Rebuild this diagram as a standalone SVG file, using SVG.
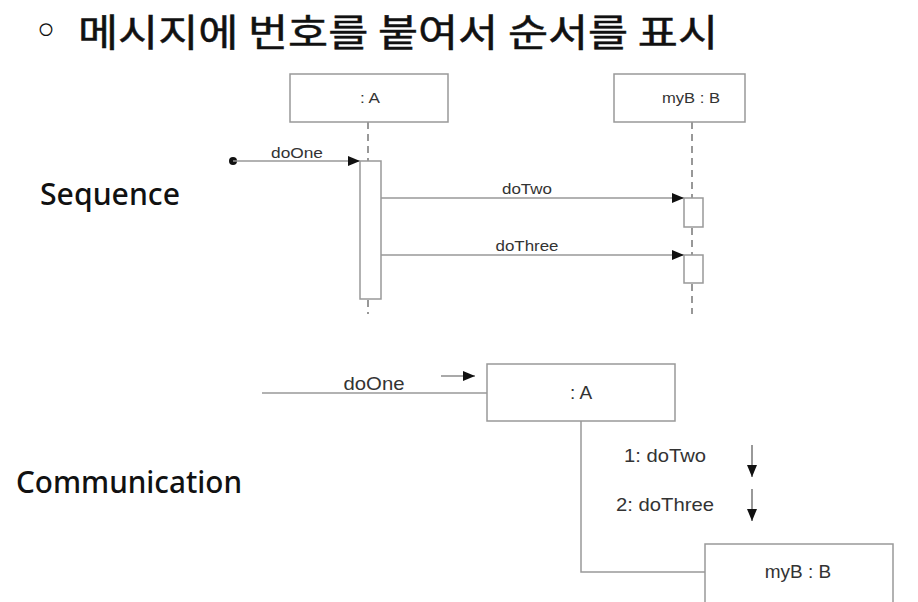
<svg xmlns="http://www.w3.org/2000/svg" width="918" height="602" viewBox="0 0 918 602">
<defs>
<style>
.t{font-family:"Liberation Sans",Arial,sans-serif;fill:#333}
.box{fill:#fff;stroke:#999;stroke-width:1.5}
.ln{fill:none;stroke:#999;stroke-width:1.5}
.dash{fill:none;stroke:#777;stroke-width:1.5;stroke-dasharray:7 5}
.arr{fill:none;stroke:#555;stroke-width:1.2}
.lbl{font-family:"Noto Sans",sans-serif;font-weight:500;font-size:30px;fill:#111}
</style>
<marker id="tri" viewBox="0 0 12 10" refX="12" refY="5" markerWidth="12" markerHeight="10" markerUnits="userSpaceOnUse" orient="auto">
<path d="M0,0 L12,5 L0,10 z" fill="#111"/>
</marker>
<marker id="tri2" viewBox="0 0 12 10" refX="12" refY="5" markerWidth="13" markerHeight="10" markerUnits="userSpaceOnUse" orient="auto">
<path d="M0,0 L12,5 L0,10 z" fill="#111"/>
</marker>
</defs>
<rect width="918" height="602" fill="#fff"/>
<g id="title">
<text x="33" y="46" font-family="DejaVu Sans,sans-serif" font-size="44" fill="#111">◦</text>
<text x="78" y="46" font-family="'Noto Sans CJK KR',sans-serif" font-weight="400" font-size="38" fill="#111" stroke="#111" stroke-width="0.5" textLength="640" lengthAdjust="spacingAndGlyphs">메시지에 번호를 붙여서 순서를 표시</text>
</g>
<text class="lbl" x="40" y="205" textLength="140" lengthAdjust="spacingAndGlyphs">Sequence</text>
<text class="lbl" x="16" y="493" textLength="226" lengthAdjust="spacingAndGlyphs">Communication</text>

<g id="seq-connectors">
<line class="dash" x1="368" y1="122" x2="368" y2="161"/>
<line class="dash" x1="368" y1="300" x2="368" y2="314"/>
<line class="dash" x1="692" y1="122" x2="692" y2="198"/>
<line class="dash" x1="692" y1="228" x2="692" y2="255"/>
<line class="dash" x1="692" y1="284" x2="692" y2="314"/>
<circle cx="233" cy="161" r="4" fill="#111"/>
<line class="ln" x1="233" y1="161" x2="360" y2="161" marker-end="url(#tri)"/>
<line class="ln" x1="381" y1="198" x2="684" y2="198" marker-end="url(#tri)"/>
<line class="ln" x1="381" y1="255" x2="684" y2="255" marker-end="url(#tri)"/>
<text class="t" x="297" y="158" font-size="15" text-anchor="middle" textLength="52" lengthAdjust="spacingAndGlyphs">doOne</text>
<text class="t" x="527" y="194" font-size="15" text-anchor="middle" textLength="50" lengthAdjust="spacingAndGlyphs">doTwo</text>
<text class="t" x="527" y="251" font-size="15" text-anchor="middle" textLength="63" lengthAdjust="spacingAndGlyphs">doThree</text>
</g>
<g id="seq-A">
<rect class="box" x="290" y="74" width="158" height="48"/>
<text class="t" x="370" y="103" font-size="15" text-anchor="middle" textLength="20" lengthAdjust="spacingAndGlyphs">: A</text>
<rect class="box" x="360" y="161" width="21" height="138"/>
</g>
<g id="seq-myB">
<rect class="box" x="614" y="74" width="131" height="48"/>
<text class="t" x="691" y="103" font-size="15" text-anchor="middle" textLength="58" lengthAdjust="spacingAndGlyphs">myB : B</text>
<rect class="box" x="684" y="198" width="19" height="29"/>
<rect class="box" x="684" y="255" width="19" height="28"/>
</g>

<g id="comm-connectors">
<line class="ln" x1="262" y1="393" x2="487" y2="393"/>
<polyline class="ln" points="581,421 581,572 705,572"/>
<text class="t" x="374" y="390" font-size="19" text-anchor="middle" textLength="61" lengthAdjust="spacingAndGlyphs">doOne</text>
<line class="arr" x1="441" y1="376" x2="475" y2="376" marker-end="url(#tri2)"/>
<text class="t" x="665" y="462" font-size="19" text-anchor="middle" textLength="82" lengthAdjust="spacingAndGlyphs">1: doTwo</text>
<text class="t" x="665" y="511" font-size="19" text-anchor="middle" textLength="98" lengthAdjust="spacingAndGlyphs">2: doThree</text>
<line class="arr" x1="752" y1="445" x2="752" y2="477" marker-end="url(#tri2)"/>
<line class="arr" x1="752" y1="489" x2="752" y2="521" marker-end="url(#tri2)"/>
</g>
<g id="comm-A">
<rect class="box" x="487" y="364" width="188" height="57"/>
<text class="t" x="581" y="399" font-size="19" text-anchor="middle">: A</text>
</g>
<g id="comm-myB">
<rect class="box" x="705" y="544" width="188" height="80"/>
<text class="t" x="798" y="578" font-size="19" text-anchor="middle">myB : B</text>
</g>
</svg>
